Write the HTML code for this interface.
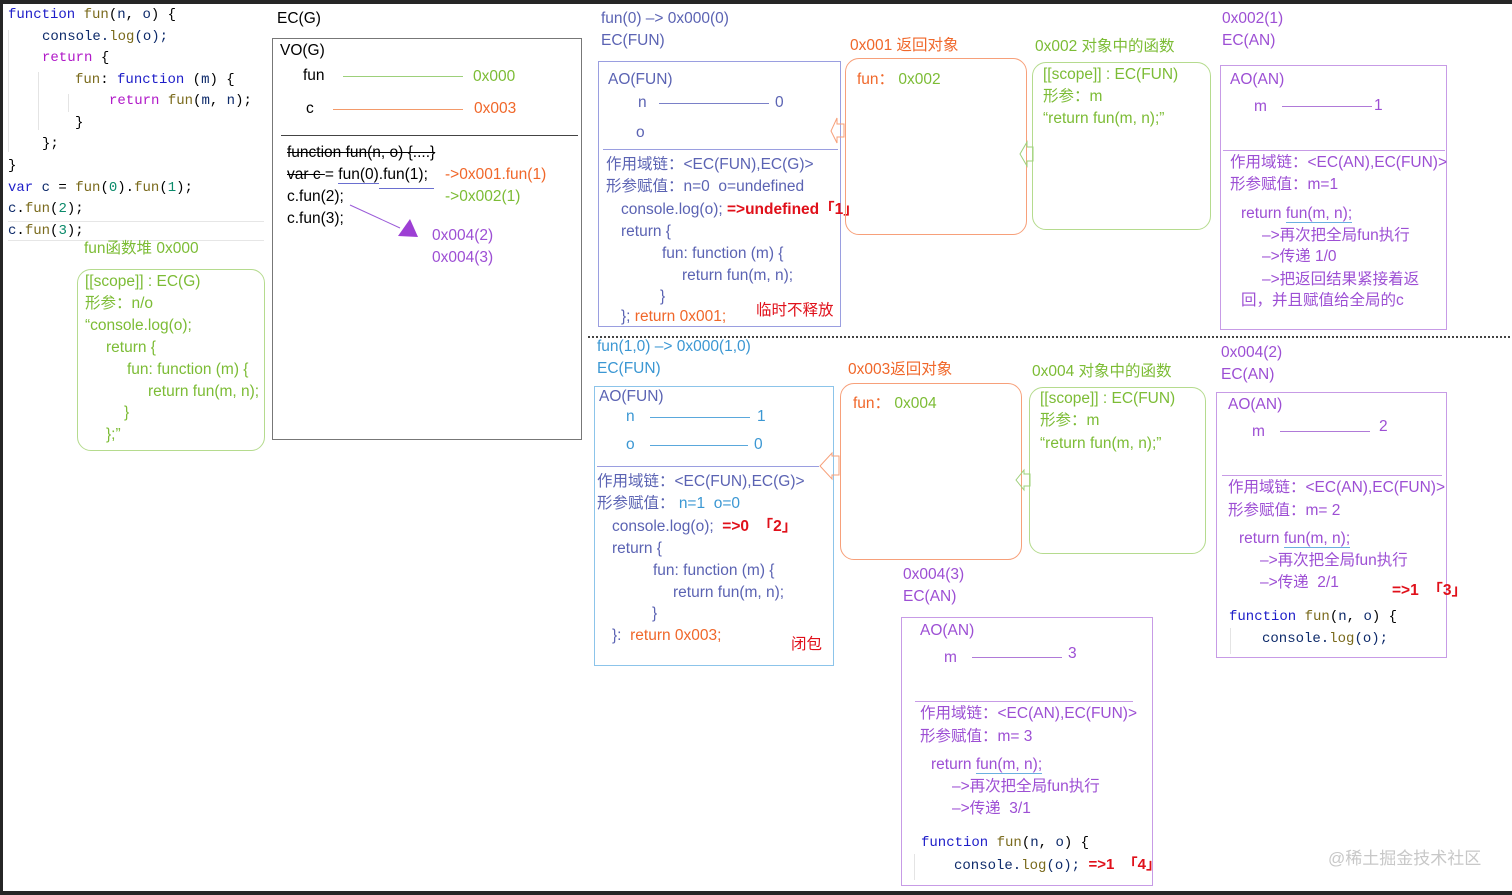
<!DOCTYPE html>
<html><head><meta charset="utf-8">
<style>
*{margin:0;padding:0;box-sizing:border-box}
body{width:1512px;height:895px;position:relative;background:#fff;overflow:hidden;font-family:"Liberation Sans","Noto Sans CJK SC",sans-serif;font-size:15.5px}
.t{position:absolute;white-space:nowrap;line-height:18px}
.c{font-family:"Liberation Mono","Noto Sans CJK SC",monospace;font-size:14px}
.b{position:absolute;border:1px solid}
.kw{color:#1d1dc8}.fn{color:#7a6a1c}.rt{color:#b019c8}.cl{color:#0d2a6a}.nm{color:#0a8a6a}
.g{color:#7cbc35}.o{color:#f0672a}.p{color:#9d4fd4}.s{color:#5b63b3}.lb{color:#3b97d3}.r{color:#e0101a;font-weight:bold}
</style></head><body>
<div style="position:absolute;left:0;top:0;width:1512px;height:4px;background:#262626"></div>
<div style="position:absolute;left:0;top:0;width:3px;height:895px;background:#262626"></div>
<div style="position:absolute;left:0;top:891px;width:1512px;height:4px;background:#262626"></div>

<!-- code -->
<div class="t c" style="left:8px;top:6px"><span class="kw">function</span> <span class="fn">fun</span>(<span class="cl">n</span>, <span class="cl">o</span>) {</div>
<div class="t c cl" style="left:42px;top:28px">console.<span class="fn">log</span>(o);</div>
<div class="t c rt" style="left:42px;top:49px">return <span style="color:#000">{</span></div>
<div class="t c" style="left:75px;top:71px"><span class="fn">fun</span>: <span class="kw">function</span> (<span class="cl">m</span>) {</div>
<div class="t c" style="left:109px;top:92px"><span class="rt">return</span> <span class="fn">fun</span>(<span class="cl">m</span>, <span class="cl">n</span>);</div>
<div class="t c" style="left:75px;top:114px">}</div>
<div class="t c" style="left:42px;top:135px">};</div>
<div class="t c" style="left:8px;top:157px">}</div>
<div class="t c" style="left:8px;top:179px"><span class="kw">var</span> <span class="cl">c</span> = <span class="fn">fun</span>(<span class="nm">0</span>).<span class="fn">fun</span>(<span class="nm">1</span>);</div>
<div class="t c" style="left:8px;top:200px"><span class="cl">c</span>.<span class="fn">fun</span>(<span class="nm">2</span>);</div>
<div style="position:absolute;left:8px;top:221px;width:256px;height:20px;border-top:1px solid #e6e6e6;border-bottom:1px solid #e6e6e6"></div>
<div class="t c" style="left:8px;top:222px"><span class="cl">c</span>.<span class="fn">fun</span>(<span class="nm">3</span>);</div>
<div style="position:absolute;left:8px;top:30px;width:1px;height:122px;background:#e4e4e4"></div>
<div style="position:absolute;left:38px;top:72px;width:1px;height:58px;background:#e4e4e4"></div>
<div style="position:absolute;left:68px;top:94px;width:1px;height:18px;background:#e4e4e4"></div>

<div class="t g" style="left:84px;top:240px">fun函数堆 0x000</div>
<div class="b" style="left:77px;top:269px;width:188px;height:182px;border-color:#b5db8e;border-radius:14px"></div>
<div class="t g" style="left:85px;top:273px">[[scope]] : EC(G)</div>
<div class="t g" style="left:85px;top:295px">形参：n/o</div>
<div class="t g" style="left:85px;top:317px">“console.log(o);</div>
<div class="t g" style="left:106px;top:339px">return {</div>
<div class="t g" style="left:127px;top:361px">fun: function (m) {</div>
<div class="t g" style="left:148px;top:383px">return fun(m, n);</div>
<div class="t g" style="left:124px;top:404px">}</div>
<div class="t g" style="left:106px;top:426px">};”</div>

<!-- EC(G) -->
<div class="t" style="left:277px;top:10px">EC(G)</div>
<div class="b" style="left:272px;top:38px;width:310px;height:402px;border-color:#777"></div>
<div style="position:absolute;left:281px;top:135px;width:297px;height:1px;background:#444"></div>
<div class="t" style="left:280px;top:42px">VO(G)</div>
<div class="t" style="left:303px;top:67px">fun</div>
<div style="position:absolute;left:343px;top:76px;width:120px;height:1px;background:#9dd07a"></div>
<div class="t g" style="left:473px;top:68px">0x000</div>
<div class="t" style="left:306px;top:100px">c</div>
<div style="position:absolute;left:333px;top:109px;width:130px;height:1px;background:#f39a6a"></div>
<div class="t o" style="left:474px;top:100px">0x003</div>
<div class="t" style="left:287px;top:144px;text-decoration:line-through">function fun(n, o) {....}</div>
<div class="t" style="left:287px;top:166px"><span style="text-decoration:line-through">var c </span>= <span style="border-bottom:1px solid #6a6fd0">fun(0)</span>.fun(1);</div>
<div style="position:absolute;left:379px;top:188px;width:55px;height:1px;background:#6a6fd0"></div>
<div class="t o" style="left:445px;top:166px">-&gt;0x001.fun(1)</div>
<div class="t" style="left:287px;top:188px">c.fun(2);</div>
<div class="t g" style="left:445px;top:188px">-&gt;0x002(1)</div>
<div class="t" style="left:287px;top:210px">c.fun(3);</div>
<div class="t p" style="left:432px;top:227px">0x004(2)</div>
<div class="t p" style="left:432px;top:249px">0x004(3)</div>

<!-- upper middle -->
<div class="t s" style="left:601px;top:10px">fun(0) –&gt; 0x000(0)</div>
<div class="t s" style="left:601px;top:32px">EC(FUN)</div>
<div class="b" style="left:598px;top:61px;width:243px;height:266px;border-color:#9a9ee0"></div>
<div style="position:absolute;left:603px;top:149px;width:235px;height:1px;background:#9a9ee0"></div>
<div class="t s" style="left:608px;top:71px">AO(FUN)</div>
<div class="t s" style="left:638px;top:94px">n</div>
<div style="position:absolute;left:659px;top:103px;width:110px;height:1px;background:#7a80c8"></div>
<div class="t s" style="left:775px;top:94px">0</div>
<div class="t s" style="left:636px;top:124px">o</div>
<div class="t s" style="left:606px;top:156px">作用域链：&lt;EC(FUN),EC(G)&gt;</div>
<div class="t s" style="left:606px;top:178px">形参赋值：n=0 &nbsp;o=undefined</div>
<div class="t s" style="left:621px;top:201px">console.log(o); <span class="r">=&gt;undefined「1」</span></div>
<div class="t s" style="left:621px;top:223px">return {</div>
<div class="t s" style="left:662px;top:245px">fun: function (m) {</div>
<div class="t s" style="left:682px;top:267px">return fun(m, n);</div>
<div class="t s" style="left:660px;top:288px">}</div>
<div class="t s" style="left:621px;top:308px">}; <span class="o">return 0x001;</span></div>
<div class="t" style="left:756px;top:302px;color:#e0101a">临时不释放</div>

<div class="t o" style="left:850px;top:37px">0x001 返回对象</div>
<div class="b" style="left:845px;top:58px;width:182px;height:177px;border-color:#f7a07a;border-radius:14px"></div>
<div class="t o" style="left:857px;top:71px">fun： <span class="g">0x002</span></div>
<div class="t g" style="left:1035px;top:38px">0x002 对象中的函数</div>
<div class="b" style="left:1032px;top:62px;width:179px;height:168px;border-color:#b5db8e;border-radius:14px"></div>
<div class="t g" style="left:1043px;top:66px">[[scope]] : EC(FUN)</div>
<div class="t g" style="left:1043px;top:88px">形参：m</div>
<div class="t g" style="left:1043px;top:110px">“return fun(m, n);”</div>

<div class="t p" style="left:1222px;top:10px">0x002(1)</div>
<div class="t p" style="left:1222px;top:32px">EC(AN)</div>
<div class="b" style="left:1220px;top:65px;width:227px;height:265px;border-color:#c79be6"></div>
<div style="position:absolute;left:1223px;top:150px;width:222px;height:1px;background:#c79be6"></div>
<div class="t p" style="left:1230px;top:71px">AO(AN)</div>
<div class="t p" style="left:1254px;top:98px">m</div>
<div style="position:absolute;left:1282px;top:106px;width:90px;height:1px;background:#b07ad8"></div>
<div class="t p" style="left:1374px;top:97px">1</div>
<div class="t p" style="left:1230px;top:154px">作用域链：&lt;EC(AN),EC(FUN)&gt;</div>
<div class="t p" style="left:1230px;top:176px">形参赋值：m=1</div>
<div class="t p" style="left:1241px;top:205px">return <span style="border-bottom:1px solid #6ab0e0">fun(m, n);</span></div>
<div class="t p" style="left:1262px;top:227px">–&gt;再次把全局fun执行</div>
<div class="t p" style="left:1262px;top:248px">–&gt;传递 1/0</div>
<div class="t p" style="left:1262px;top:271px">–&gt;把返回结果紧接着返</div>
<div class="t p" style="left:1241px;top:292px">回，并且赋值给全局的c</div>

<div style="position:absolute;left:588px;top:336px;width:922px;height:0;border-top:2px dotted #444"></div>

<!-- lower middle -->
<div class="t lb" style="left:597px;top:338px">fun(1,0) –&gt; 0x000(1,0)</div>
<div class="t lb" style="left:597px;top:360px">EC(FUN)</div>
<div class="b" style="left:594px;top:386px;width:240px;height:280px;border-color:#8cc4ea"></div>
<div style="position:absolute;left:597px;top:466px;width:222px;height:1px;background:#9a9ee0"></div>
<div class="t s" style="left:599px;top:388px">AO(FUN)</div>
<div class="t lb" style="left:626px;top:408px">n</div>
<div style="position:absolute;left:650px;top:417px;width:100px;height:1px;background:#5aa8dc"></div>
<div class="t lb" style="left:757px;top:408px">1</div>
<div class="t lb" style="left:626px;top:436px">o</div>
<div style="position:absolute;left:650px;top:445px;width:98px;height:1px;background:#5aa8dc"></div>
<div class="t lb" style="left:754px;top:436px">0</div>
<div class="t s" style="left:597px;top:473px">作用域链：&lt;EC(FUN),EC(G)&gt;</div>
<div class="t s" style="left:597px;top:495px">形参赋值： <span class="lb">n=1 &nbsp;o=0</span></div>
<div class="t s" style="left:612px;top:518px">console.log(o); &nbsp;<span class="r">=&gt;0 &nbsp;「2」</span></div>
<div class="t s" style="left:612px;top:540px">return {</div>
<div class="t s" style="left:653px;top:562px">fun: function (m) {</div>
<div class="t s" style="left:673px;top:584px">return fun(m, n);</div>
<div class="t s" style="left:652px;top:605px">}</div>
<div class="t s" style="left:612px;top:627px">}: &nbsp;<span class="o">return 0x003;</span></div>
<div class="t" style="left:791px;top:636px;color:#e0101a">闭包</div>

<div class="t o" style="left:848px;top:361px">0x003返回对象</div>
<div class="b" style="left:840px;top:383px;width:182px;height:177px;border-color:#f7a07a;border-radius:14px"></div>
<div class="t o" style="left:853px;top:395px">fun： <span class="g">0x004</span></div>
<div class="t g" style="left:1032px;top:363px">0x004 对象中的函数</div>
<div class="b" style="left:1029px;top:387px;width:177px;height:167px;border-color:#b5db8e;border-radius:14px"></div>
<div class="t g" style="left:1040px;top:390px">[[scope]] : EC(FUN)</div>
<div class="t g" style="left:1040px;top:412px">形参：m</div>
<div class="t g" style="left:1040px;top:435px">“return fun(m, n);”</div>

<div class="t p" style="left:1221px;top:344px">0x004(2)</div>
<div class="t p" style="left:1221px;top:366px">EC(AN)</div>
<div class="b" style="left:1216px;top:392px;width:231px;height:266px;border-color:#c79be6"></div>
<div style="position:absolute;left:1222px;top:475px;width:220px;height:1px;background:#c79be6"></div>
<div class="t p" style="left:1228px;top:396px">AO(AN)</div>
<div class="t p" style="left:1252px;top:423px">m</div>
<div style="position:absolute;left:1280px;top:431px;width:90px;height:1px;background:#b07ad8"></div>
<div class="t p" style="left:1379px;top:418px">2</div>
<div class="t p" style="left:1228px;top:479px">作用域链：&lt;EC(AN),EC(FUN)&gt;</div>
<div class="t p" style="left:1228px;top:502px">形参赋值：m= 2</div>
<div class="t p" style="left:1239px;top:530px">return <span style="border-bottom:1px solid #6ab0e0">fun(m, n);</span></div>
<div class="t p" style="left:1260px;top:552px">–&gt;再次把全局fun执行</div>
<div class="t p" style="left:1260px;top:574px">–&gt;传递 &nbsp;2/1</div>
<div class="t r" style="left:1392px;top:582px">=&gt;1 &nbsp;「3」</div>
<div class="t c" style="left:1229px;top:608px"><span class="kw">function</span> <span class="fn">fun</span>(<span class="cl">n</span>, <span class="cl">o</span>) {</div>
<div class="t c cl" style="left:1262px;top:630px">console.<span class="fn">log</span>(o);</div>
<div style="position:absolute;left:1230px;top:628px;width:1px;height:26px;background:#e4e4e4"></div>

<div class="t p" style="left:903px;top:566px">0x004(3)</div>
<div class="t p" style="left:903px;top:588px">EC(AN)</div>
<div class="b" style="left:901px;top:617px;width:252px;height:269px;border-color:#c79be6"></div>
<div style="position:absolute;left:915px;top:701px;width:218px;height:1px;background:#c79be6"></div>
<div class="t p" style="left:920px;top:622px">AO(AN)</div>
<div class="t p" style="left:944px;top:649px">m</div>
<div style="position:absolute;left:972px;top:657px;width:90px;height:1px;background:#b07ad8"></div>
<div class="t p" style="left:1068px;top:645px">3</div>
<div class="t p" style="left:920px;top:705px">作用域链：&lt;EC(AN),EC(FUN)&gt;</div>
<div class="t p" style="left:920px;top:728px">形参赋值：m= 3</div>
<div class="t p" style="left:931px;top:756px">return <span style="border-bottom:1px solid #6ab0e0">fun(m, n);</span></div>
<div class="t p" style="left:952px;top:778px">–&gt;再次把全局fun执行</div>
<div class="t p" style="left:952px;top:800px">–&gt;传递 &nbsp;3/1</div>
<div class="t c" style="left:921px;top:834px"><span class="kw">function</span> <span class="fn">fun</span>(<span class="cl">n</span>, <span class="cl">o</span>) {</div>
<div class="t c cl" style="left:954px;top:856px">console.<span class="fn">log</span>(o); <span class="r" style="font-family:'Liberation Sans','Noto Sans CJK SC',sans-serif;font-size:15px">=&gt;1 &nbsp;「4」</span></div>
<div style="position:absolute;left:914px;top:854px;width:1px;height:26px;background:#e4e4e4"></div>

<div class="t" style="left:1328px;top:850px;font-size:17px;color:#c8c8c8">@稀土掘金技术社区</div>

<svg width="1512" height="895" style="position:absolute;left:0;top:0" xmlns="http://www.w3.org/2000/svg">
<line x1="350" y1="205" x2="400" y2="228" stroke="#9a5ad8" stroke-width="1"/>
<polygon points="398,236 418,237 410,219" fill="#9d3fd4"/>
<polygon points="844,124 837,124 837,118 831,131 837,143 837,137 844,137" fill="none" stroke="#f7a07a"/>
<polygon points="1033,147 1027,147 1027,142 1020,154 1027,166 1027,161 1033,161" fill="none" stroke="#9dd07a"/>
<polygon points="839,456 832,456 832,453 820,466 832,479 832,475 839,475" fill="none" stroke="#f7a07a"/>
<polygon points="1030,474 1024,474 1024,470 1016,480 1024,490 1024,486 1030,486" fill="none" stroke="#9dd07a"/>
</svg>
</body></html>
